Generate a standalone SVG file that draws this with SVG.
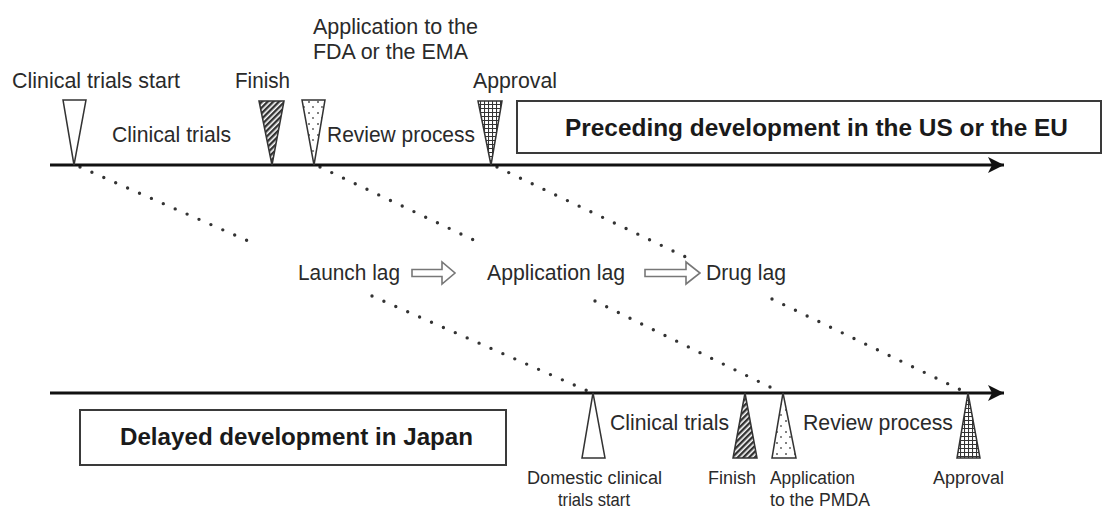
<svg xmlns="http://www.w3.org/2000/svg" width="1104" height="512" viewBox="0 0 1104 512">
<defs>
<style>
text{font-family:"Liberation Sans",Arial,sans-serif;fill:#2a2a2a}
.lbl{font-size:22px}
.sm{font-size:18px}
.bold{font-size:24px;font-weight:bold;fill:#1a1a1a}
.box{fill:#fff;stroke:#3a3a3a;stroke-width:2}
.axis{stroke:#111;stroke-width:3;fill:none}
.tri{stroke:#333;stroke-width:1.5}
.dots{stroke:#333;stroke-width:3.4;stroke-linecap:round;stroke-dasharray:0 13;fill:none}
.hollow{fill:#fff;stroke:#777;stroke-width:1.6}
</style>
<pattern id="hatch" width="4" height="4" patternUnits="userSpaceOnUse" patternTransform="rotate(45)">
<rect width="4" height="4" fill="#fff"/>
<rect width="2.4" height="4" fill="#333"/>
</pattern>
<pattern id="stipple" width="9" height="11" patternUnits="userSpaceOnUse">
<rect width="9" height="11" fill="#fff"/>
<circle cx="3" cy="3" r="1" fill="#555"/>
<circle cx="7" cy="8" r="0.9" fill="#555"/>
</pattern>
<pattern id="grid" width="4" height="4" patternUnits="userSpaceOnUse">
<rect width="4" height="4" fill="#fff"/>
<path d="M0 0.5H4M0.5 0V4" stroke="#333" stroke-width="1.1"/>
</pattern>
<marker id="ah" markerUnits="userSpaceOnUse" markerWidth="18" markerHeight="18" refX="16" refY="8" orient="auto">
<path d="M0 0L16 8L0 16L4 8Z" fill="#111"/>
</marker>
</defs>

<g id="connectors">
<path class="dots" d="M80 167L255 244M372 296L590 392"/>
<path class="dots" d="M320 167L480 243M595 301L780 392"/>
<path class="dots" d="M497 167L692 260M772 299L965 392"/>
</g>

<g id="axis-top"><path class="axis" d="M50 165H1004" marker-end="url(#ah)"/></g>
<g id="axis-bottom"><path class="axis" d="M50 393H1004" marker-end="url(#ah)"/></g>

<g id="box-us"><rect class="box" x="517" y="101" width="584" height="52"/>
<text class="bold" x="565" y="136" textLength="503" lengthAdjust="spacingAndGlyphs">Preceding development in the US or the EU</text></g>
<g id="box-japan"><rect class="box" x="80" y="410" width="426" height="55"/>
<text class="bold" x="120" y="445" textLength="353" lengthAdjust="spacingAndGlyphs">Delayed development in Japan</text></g>

<g id="us-start"><polygon class="tri" points="63,100 86,100 74,165" fill="#fff"/>
<text class="lbl" x="12" y="88" textLength="168" lengthAdjust="spacingAndGlyphs">Clinical trials start</text></g>
<g id="us-finish"><polygon class="tri" points="259,101 284,101 272,165" fill="url(#hatch)"/>
<text class="lbl" x="235" y="88" textLength="55" lengthAdjust="spacingAndGlyphs">Finish</text></g>
<g id="us-application"><polygon class="tri" points="302,100 325,100 314,165" fill="url(#stipple)"/>
<text class="lbl" x="313" y="34" textLength="165" lengthAdjust="spacingAndGlyphs">Application to the</text>
<text class="lbl" x="313" y="59" textLength="155" lengthAdjust="spacingAndGlyphs">FDA or the EMA</text></g>
<g id="us-approval"><polygon class="tri" points="478,101 502,101 491,165" fill="url(#grid)"/>
<text class="lbl" x="473" y="88" textLength="84" lengthAdjust="spacingAndGlyphs">Approval</text></g>
<g id="us-phases">
<text class="lbl" x="112" y="142" textLength="119" lengthAdjust="spacingAndGlyphs">Clinical trials</text>
<text class="lbl" x="327" y="142" textLength="148" lengthAdjust="spacingAndGlyphs">Review process</text></g>

<g id="lags">
<text class="lbl" x="298" y="280" textLength="102" lengthAdjust="spacingAndGlyphs">Launch lag</text>
<path class="hollow" d="M412 269.5H442V262L455 273L442 284V276.5H412Z"/>
<text class="lbl" x="487" y="280" textLength="138" lengthAdjust="spacingAndGlyphs">Application lag</text>
<path class="hollow" d="M645 269.5H686V262L700 273L686 284V276.5H645Z"/>
<text class="lbl" x="706" y="280" textLength="80" lengthAdjust="spacingAndGlyphs">Drug lag</text></g>

<g id="jp-start"><polygon class="tri" points="593,393 582,458 605,458" fill="#fff"/>
<text class="sm" x="527" y="484" textLength="135" lengthAdjust="spacingAndGlyphs">Domestic clinical</text>
<text class="sm" x="558" y="506" textLength="72" lengthAdjust="spacingAndGlyphs">trials start</text></g>
<g id="jp-finish"><polygon class="tri" points="745,393 733,458 757,458" fill="url(#hatch)"/>
<text class="sm" x="708" y="484" textLength="48" lengthAdjust="spacingAndGlyphs">Finish</text></g>
<g id="jp-application"><polygon class="tri" points="783,393 772,458 796,458" fill="url(#stipple)"/>
<text class="sm" x="770" y="484" textLength="85" lengthAdjust="spacingAndGlyphs">Application</text>
<text class="sm" x="770" y="506" textLength="100" lengthAdjust="spacingAndGlyphs">to the PMDA</text></g>
<g id="jp-approval"><polygon class="tri" points="968,393 957,458 980,458" fill="url(#grid)"/>
<text class="sm" x="933" y="484" textLength="71" lengthAdjust="spacingAndGlyphs">Approval</text></g>
<g id="jp-phases">
<text class="lbl" x="610" y="430" textLength="119" lengthAdjust="spacingAndGlyphs">Clinical trials</text>
<text class="lbl" x="803" y="430" textLength="150" lengthAdjust="spacingAndGlyphs">Review process</text></g>
</svg>
